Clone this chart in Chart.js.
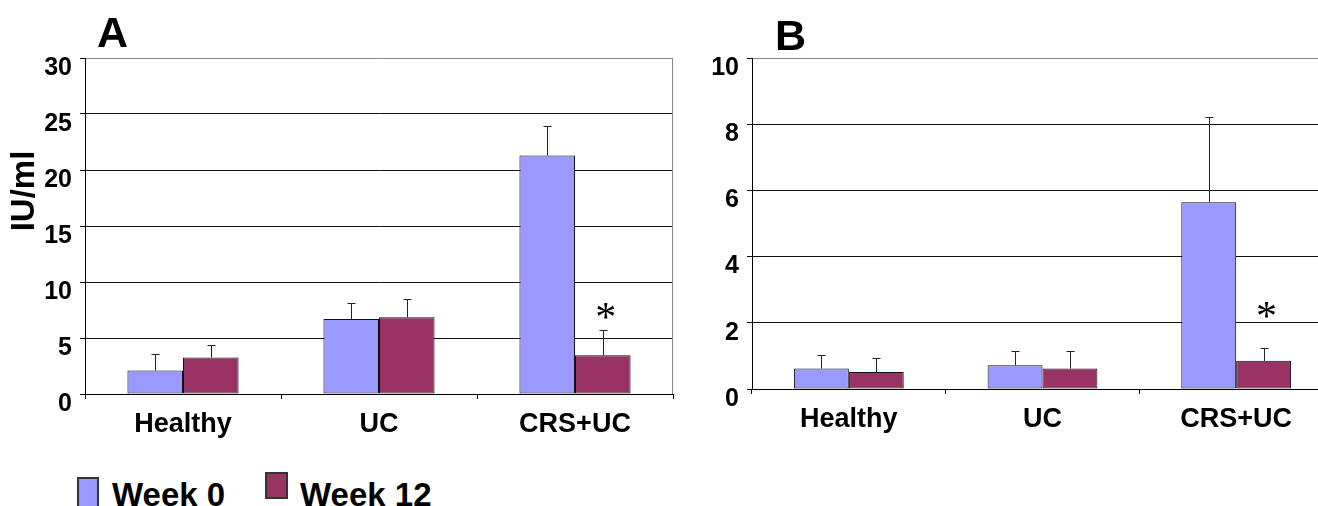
<!DOCTYPE html>
<html>
<head>
<meta charset="utf-8">
<title>IU/ml Week 0 vs Week 12</title>
<script src="https://cdn.jsdelivr.net/npm/chart.js@4.4.1/dist/chart.umd.min.js"></script>
<style>
    html, body { margin: 0; padding: 0; background: #fff; }
    body {
        width: 1318px; height: 506px; overflow: hidden; position: relative;
        font-family: "Liberation Sans", Arial, sans-serif;
    }
    .panel { position: absolute; top: 0; }
    #panelA { left: 0; }
    #panelB { left: 690px; }
    .legend-box {
        position: absolute; box-sizing: border-box;
        border: 2px solid #333;
    }
    .legend-text {
        position: absolute; font-weight: bold; font-size: 33px;
        line-height: 33px; color: #000; white-space: nowrap;
    }
</style>
</head>
<body>
<canvas id="panelA" class="panel" width="690" height="460"></canvas>
<canvas id="panelB" class="panel" width="660" height="460"></canvas>
<div id="legend"></div>

<script>
// ---- data ----
const categories = ['Healthy', 'UC', 'CRS+UC'];
const seriesNames = ['Week 0', 'Week 12'];

// Panel A (IU/ml)
const week0A = [2.1, 6.7, 21.3];
const week0AErr = [1.5, 1.45, 2.6];
const week12A = [3.25, 6.85, 3.45];
const week12AErr = [1.15, 1.6, 2.25];
const starsA = [null, null, 7.6];
const ticksA = [0, 5, 10, 15, 20, 25, 30];

// Panel B
const week0B = [0.62, 0.72, 5.64];
const week0BErr = [0.4, 0.42, 2.58];
const week12B = [0.51, 0.62, 0.85];
const week12BErr = [0.42, 0.52, 0.38];
const starsB = [null, null, 2.45];
const ticksB = [0, 2, 4, 6, 8, 10];

const colors = ['#9999FF', '#993366'];

Chart.defaults.font.family = '"Liberation Sans", Arial, sans-serif';
Chart.defaults.color = '#000';

/**
 * Upper error bars and significance stars, drawn from the bar elements
 */
const errorBars = {
    id: 'errorBars',
    afterDatasetsDraw(chart) {
        const ctx = chart.ctx;
        const yScale = chart.scales.y;
        ctx.save();
        chart.data.datasets.forEach((ds, i) => {
            const meta = chart.getDatasetMeta(i);
            meta.data.forEach((bar, j) => {
                const x = Math.round(bar.x) + 0.5;
                const top = Math.round(yScale.getPixelForValue(ds.data[j] + ds.errors[j])) + 0.5;
                ctx.strokeStyle = '#222';
                ctx.lineWidth = 1;
                ctx.beginPath();
                ctx.moveTo(x, bar.y);
                ctx.lineTo(x, top);
                ctx.moveTo(x - 4, top);
                ctx.lineTo(x + 4, top);
                ctx.stroke();

                if (ds.stars && ds.stars[j] != null) {
                    const cy = yScale.getPixelForValue(ds.stars[j]);
                    ctx.fillStyle = '#000';
                    ctx.font = '42px "Liberation Serif", "Times New Roman", serif';
                    ctx.textAlign = 'center';
                    ctx.textBaseline = 'alphabetic';
                    ctx.fillText('*', bar.x + 3, cy + 22);
                }
            });
        });
        ctx.restore();
    }
};

/**
 * Panel letter, axis title and the grey plot frame on the right
 */
const panelDecor = {
    id: 'panelDecor',
    afterDraw(chart, args, opts) {
        const ctx = chart.ctx;
        const area = chart.chartArea;
        ctx.save();
        ctx.strokeStyle = '#888';
        ctx.lineWidth = 1;
        ctx.beginPath();
        ctx.moveTo(Math.round(area.right) - 0.5, area.top);
        ctx.lineTo(Math.round(area.right) - 0.5, area.bottom);
        ctx.stroke();

        ctx.fillStyle = '#000';
        ctx.font = 'bold 43px "Liberation Sans", Arial, sans-serif';
        ctx.textAlign = 'left';
        ctx.textBaseline = 'alphabetic';
        ctx.fillText(opts.letter, opts.letterX, opts.letterY);

        if (opts.title) {
            ctx.translate(opts.titleX, opts.titleY);
            ctx.rotate(-Math.PI / 2);
            ctx.font = 'bold 33px "Liberation Sans", Arial, sans-serif';
            ctx.textAlign = 'center';
            ctx.textBaseline = 'middle';
            ctx.fillText(opts.title, 0, 0);
        }
        ctx.restore();
    }
};

function makePanel(canvas, cfg) {
    return new Chart(canvas, {
        type: 'bar',
        data: {
            labels: categories,
            datasets: [
                { label: seriesNames[0], data: cfg.w0, errors: cfg.w0Err, backgroundColor: colors[0] },
                { label: seriesNames[1], data: cfg.w12, errors: cfg.w12Err, stars: cfg.stars, backgroundColor: colors[1] }
            ]
        },
        options: {
            responsive: false,
            animation: false,
            devicePixelRatio: 1,
            layout: { padding: { top: cfg.top, right: cfg.right, left: 0, bottom: 0 } },
            datasets: {
                bar: {
                    categoryPercentage: 0.567,
                    barPercentage: 1,
                    borderColor: '#111',
                    borderWidth: 1,
                    borderSkipped: false
                }
            },
            plugins: {
                legend: { display: false },
                tooltip: { enabled: false },
                panelDecor: cfg.decor
            },
            scales: {
                x: {
                    afterFit: (s) => { s.height = cfg.xHeight; },
                    border: { display: true, color: '#000', width: 1 },
                    grid: { offset: true, drawOnChartArea: false, drawTicks: true, tickLength: 5, color: '#000' },
                    ticks: { font: { size: 27, weight: 'bold' }, padding: 9, maxRotation: 0 }
                },
                y: {
                    min: 0,
                    max: cfg.ticks[cfg.ticks.length - 1],
                    afterFit: (s) => { s.width = cfg.yWidth; },
                    afterBuildTicks: (s) => { s.ticks = cfg.ticks.map(v => ({ value: v })); },
                    border: { display: true, color: '#000', width: 1 },
                    grid: {
                        color: (c) => (c.tick && c.tick.value === cfg.ticks[cfg.ticks.length - 1]) ? '#888' : '#111',
                        tickColor: '#000',
                        tickLength: 5,
                        lineWidth: 1
                    },
                    ticks: { font: { size: 25, weight: 'bold' }, padding: 8, labelOffset: 10 }
                }
            }
        },
        plugins: [errorBars, panelDecor]
    });
}

makePanel(document.getElementById('panelA'), {
    w0: week0A, w0Err: week0AErr, w12: week12A, w12Err: week12AErr, stars: starsA,
    ticks: ticksA, top: 58, right: 17, yWidth: 85, xHeight: 66,
    decor: { letter: 'A', letterX: 97, letterY: 47, title: 'IU/ml', titleX: 25, titleY: 191 }
});

makePanel(document.getElementById('panelB'), {
    w0: week0B, w0Err: week0BErr, w12: week12B, w12Err: week12BErr, stars: starsB,
    ticks: ticksB, top: 58, right: 17, yWidth: 62, xHeight: 71,
    decor: { letter: 'B', letterX: 85, letterY: 50 }
});

// ---- legend below panel A ----
const legend = document.getElementById('legend');
const legendLayout = [
    { box: [77, 477, 22, 32], text: [112, 478] },
    { box: [265, 472, 23, 27], text: [300, 478] }
];
seriesNames.forEach((name, i) => {
    const l = legendLayout[i];
    const box = document.createElement('div');
    box.className = 'legend-box';
    box.style.left = l.box[0] + 'px';
    box.style.top = l.box[1] + 'px';
    box.style.width = l.box[2] + 'px';
    box.style.height = l.box[3] + 'px';
    box.style.background = colors[i];
    legend.appendChild(box);

    const txt = document.createElement('div');
    txt.className = 'legend-text';
    txt.style.left = l.text[0] + 'px';
    txt.style.top = l.text[1] + 'px';
    txt.textContent = name;
    legend.appendChild(txt);
});
</script>
</body>
</html>
